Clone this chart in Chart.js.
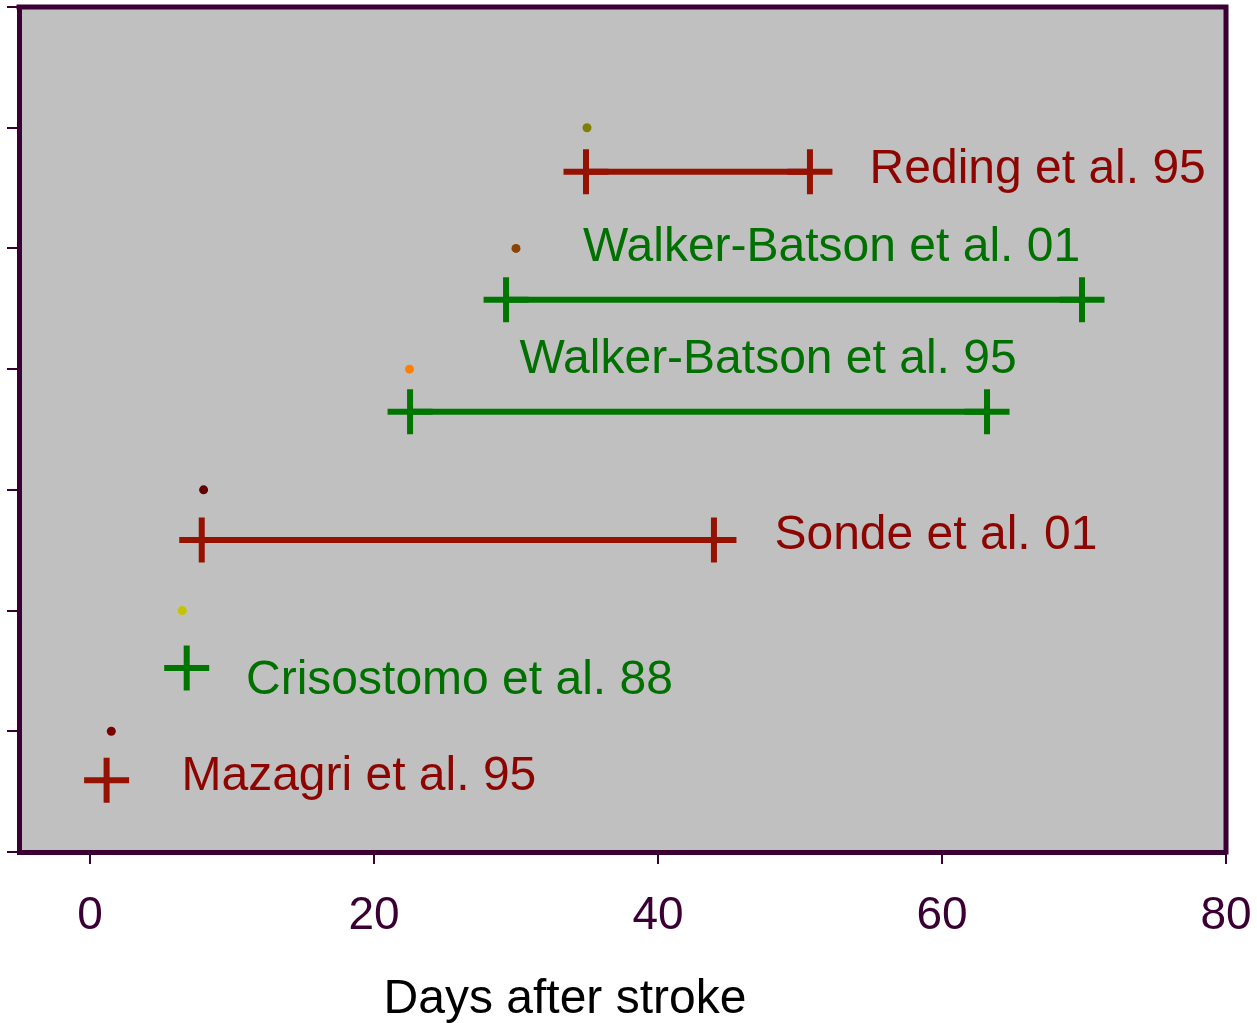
<!DOCTYPE html>
<html>
<head>
<meta charset="utf-8">
<script src="https://cdn.jsdelivr.net/npm/chart.js@4/dist/chart.umd.min.js"></script>
<style>
  html, body { margin: 0; padding: 0; background: #ffffff; }
  #c { display: block; }
</style>
</head>
<body>
<canvas id="c" width="1257" height="1023"></canvas>
<script>
// ---- data ----
const studies = ["Mazagri et al. 95", "Crisostomo et al. 88", "Sonde et al. 01", "Walker-Batson et al. 95", "Walker-Batson et al. 01", "Reding et al. 95"];
const dotX = [1.5, 6.5, 8, 22.5, 30, 35];
const dotY = [1, 2, 3, 4, 5, 6];
const rangeStart = [1.17, 6.81, 7.87, 22.54, 29.3, 34.93];
const rangeEnd = [null, null, 43.94, 63.17, 69.86, 50.7];
const rangeY = [0.594, 1.525, 2.584, 3.648, 4.574, 5.635];
const labelX = [6.44, 10.99, 48.2, 30.25, 34.72, 54.9];
const labelY = [0.511, 1.313, 2.507, 3.966, 4.897, 5.546];
const xTicks = [0, 20, 40, 60, 80];
const yTicks = [0, 1, 2, 3, 4, 5, 6, 7];
const xTitle = "Days after stroke";

// ---- styles ----
const RED = "#951200", RED_TXT = "#8c0500";
const GREEN = "#007600", GREEN_TXT = "#007000";
const studyColor = [RED, GREEN, RED, GREEN, GREEN, RED];
const studyTextColor = [RED_TXT, GREEN_TXT, RED_TXT, GREEN_TXT, GREEN_TXT, RED_TXT];
const dotColors = ["#7a0000", "#c4c400", "#600000", "#ff8000", "#8a4300", "#808000"];
const AXIS = "#3a0034";
const FONT = "'Liberation Sans', Arial, sans-serif";

const datasets = [];
datasets.push({
  type: 'scatter',
  data: dotX.map((x, i) => ({x: x, y: dotY[i]})),
  pointRadius: 4.5,
  pointBorderWidth: 0,
  pointBackgroundColor: dotColors,
  showLine: false
});
studies.forEach((s, i) => {
  const pts = [{x: rangeStart[i], y: rangeY[i]}];
  if (rangeEnd[i] !== null) pts.push({x: rangeEnd[i], y: rangeY[i]});
  datasets.push({
    type: 'line',
    label: s,
    data: pts,
    borderColor: studyColor[i],
    borderWidth: 6,
    pointStyle: 'cross',
    pointRadius: 22.5,
    pointBorderWidth: 6,
    pointBorderColor: studyColor[i],
    pointBackgroundColor: studyColor[i],
    fill: false,
    tension: 0
  });
});

const framePlugin = {
  id: 'frame',
  beforeDraw(chart) {
    const a = chart.chartArea, ctx = chart.ctx;
    ctx.save();
    ctx.fillStyle = '#c0c0c0';
    ctx.fillRect(a.left, a.top, a.right - a.left, a.bottom - a.top);
    ctx.restore();
  },
  afterDraw(chart) {
    const a = chart.chartArea, ctx = chart.ctx;
    ctx.save();
    ctx.strokeStyle = AXIS;
    ctx.lineWidth = 5;
    ctx.beginPath();
    ctx.moveTo(a.left - 2.5, a.top);
    ctx.lineTo(a.right, a.top);
    ctx.lineTo(a.right, a.bottom + 2.5);
    ctx.stroke();
    // study labels
    const xs = chart.scales.x, ys = chart.scales.y;
    ctx.font = "48px " + FONT;
    ctx.textAlign = 'left';
    ctx.textBaseline = 'alphabetic';
    studies.forEach((s, i) => {
      ctx.fillStyle = studyTextColor[i];
      ctx.fillText(s, xs.getPixelForValue(labelX[i]), ys.getPixelForValue(labelY[i]));
    });
    // axis title
    ctx.fillStyle = '#000000';
    ctx.font = "48px " + FONT;
    ctx.textAlign = 'center';
    ctx.fillText(xTitle, 565, 1012.7);
    ctx.restore();
  }
};

new Chart(document.getElementById('c'), {
  data: { datasets: datasets },
  options: {
    responsive: false,
    animation: false,
    devicePixelRatio: 1,
    layout: { autoPadding: false, padding: { top: 7, right: 31, left: 0, bottom: 0 } },
    plugins: { legend: { display: false }, tooltip: { enabled: false } },
    scales: {
      x: {
        type: 'linear',
        position: 'bottom',
        min: -5, max: 80,
        afterBuildTicks(scale) { scale.ticks = xTicks.map(v => ({value: v})); },
        afterFit(scale) { scale.height = 171; scale.paddingLeft = 0; scale.paddingRight = 0; },
        grid: { drawOnChartArea: false, drawTicks: true, tickLength: 12, color: AXIS, lineWidth: 2 },
        border: { display: true, color: AXIS, width: 5 },
        ticks: { color: AXIS, font: { family: FONT, size: 46 }, padding: 25, maxRotation: 0, autoSkip: false }
      },
      y: {
        type: 'linear',
        position: 'left',
        min: 0, max: 7,
        afterBuildTicks(scale) { scale.ticks = yTicks.map(v => ({value: v})); },
        afterFit(scale) { scale.width = 19; scale.paddingTop = 0; scale.paddingBottom = 0; },
        grid: { drawOnChartArea: false, drawTicks: true, tickLength: 12, color: AXIS, lineWidth: 2 },
        border: { display: true, color: AXIS, width: 5 },
        ticks: { display: false }
      }
    }
  },
  plugins: [framePlugin]
});
</script>
</body>
</html>
